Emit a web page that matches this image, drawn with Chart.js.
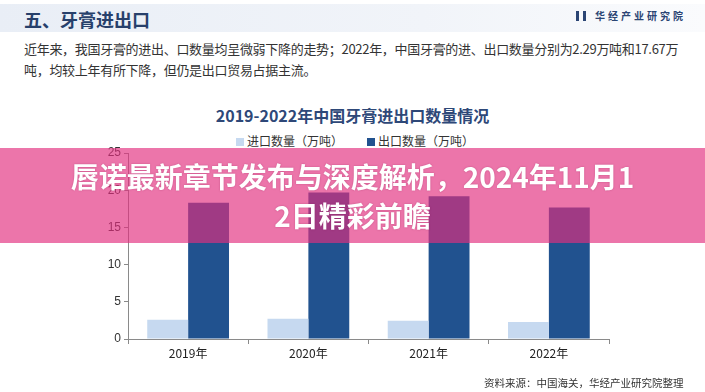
<!DOCTYPE html>
<html>
<head>
<meta charset="utf-8">
<script src="https://cdn.jsdelivr.net/npm/chart.js@4.4.0/dist/chart.umd.min.js"></script>
<style>
	body { margin: 0; width: 705px; height: 392px; overflow: hidden; background: #fff; font-family: "Noto Sans CJK SC", "Noto Sans", sans-serif; }
	#wrap { position: relative; width: 705px; height: 392px; }
	#chart { position: absolute; left: 0; top: 0; }
	.abs { position: absolute; white-space: nowrap; }
	#band { left: 0; top: 4px; width: 705px; height: 28px; background: linear-gradient(90deg, #e9eef6 0%, #f1f4f9 60%, #fafbfd 100%); }
	#head { left: 24px; top: 5px; font-size: 18px; font-weight: bold; color: #27406b; line-height: 28px; }
	#logo { left: 576px; top: 9px; font-size: 10px; font-weight: bold; color: #2b4574; letter-spacing: 3px; line-height: 14px; }
	#logo span { display: inline-block; width: 4px; height: 10px; border-left: 3px solid #2b4574; border-right: 3px solid #2b4574; margin-right: 9px; vertical-align: -1px; }
	#para { left: 24px; top: 38px; font-size: 13px; color: #333; line-height: 21px; letter-spacing: -0.3px; }
	#title { left: 0; width: 705px; top: 103px; text-align: center; font-size: 16px; font-weight: bold; color: #2e4878; }
	#legend { left: 236px; top: 133px; font-size: 12px; color: #333; line-height: 16px; }
	#legend i { display: inline-block; width: 8px; height: 8px; margin-right: 3px; vertical-align: 0px; }
	#src { left: 484px; top: 375px; font-size: 10.5px; color: #333; }
	#banner { left: 0; top: 148px; width: 705px; height: 95px; background: rgba(226, 46, 126, 0.66);
		display: flex; align-items: center; justify-content: center; text-align: center; }
	#banner div { color: #fff; font-weight: bold; font-size: 28px; line-height: 39px; letter-spacing: 0px; text-shadow: 0 0 2px rgba(120,0,60,0.35); }
</style>
</head>
<body>
<div id="wrap">
	<div class="abs" id="band"></div>
	<div class="abs" id="head">五、牙膏进出口</div>
	<div class="abs" id="logo"><span></span>华经产业研究院</div>
	<div class="abs" id="para">近年来，我国牙膏的进出、口数量均呈微弱下降的走势；2022年，中国牙膏的进、出口数量分别为2.29万吨和17.67万<br>吨，均较上年有所下降，但仍是出口贸易占据主流。</div>
	<div class="abs" id="title">2019-2022年中国牙膏进出口数量情况</div>
	<div class="abs" id="legend"><i style="background:#c6d9f0"></i>进口数量（万吨）<i style="background:#21528f;margin-left:24px"></i>出口数量（万吨）</div>
	<canvas id="chart" width="705" height="392"></canvas>
	<div class="abs" id="src">资料来源：中国海关，华经产业研究院整理</div>
	<div class="abs" id="banner"><div>唇诺最新章节发布与深度解析，2024年11月1<br>2日精彩前瞻</div></div>
</div>
<script>
var years = ['2019年', '2020年', '2021年', '2022年'];
var importQty = [2.6, 2.72, 2.45, 2.29];
var exportQty = [18.3, 19.7, 19.2, 17.67];
var yTicks = [0, 5, 10, 15, 20, 25];

var ctx = document.getElementById('chart').getContext('2d');
var chart = new Chart(ctx, {
	type: 'bar',
	data: {
		labels: years,
		datasets: [
			{
				label: '进口数量（万吨）',
				backgroundColor: '#c6d9f0',
				data: importQty
			},
			{
				label: '出口数量（万吨）',
				backgroundColor: '#21528f',
				data: exportQty
			}
		]
	},
	options: {
		responsive: false,
		animation: false,
		events: [],
		layout: {
			padding: { left: 80, right: 96, top: 153, bottom: 23 }
		},
		plugins: {
			legend: { display: false },
			title: { display: false },
			tooltip: { enabled: false }
		},
		datasets: {
			bar: { categoryPercentage: 0.68, barPercentage: 1 }
		},
		scales: {
			x: {
				afterFit: function(scale) { scale.height = 30; },
				border: { color: '#8a8a8a', width: 1 },
				grid: { drawOnChartArea: false, tickLength: 5, color: '#8a8a8a' },
				ticks: { color: '#222', font: { size: 12, family: 'Noto Sans CJK SC' }, padding: 2 }
			},
			y: {
				min: 0,
				max: 25,
				afterFit: function(scale) { scale.width = 48; },
				afterBuildTicks: function(scale) {
					scale.ticks = yTicks.map(function(v) { return { value: v }; });
				},
				border: { color: '#8a8a8a', width: 1 },
				grid: { drawOnChartArea: false, tickLength: 4, color: '#8a8a8a' },
				ticks: { color: '#333', font: { size: 12, family: 'Liberation Sans' }, padding: 3 }
			}
		}
	}
});
</script>
</body>
</html>
